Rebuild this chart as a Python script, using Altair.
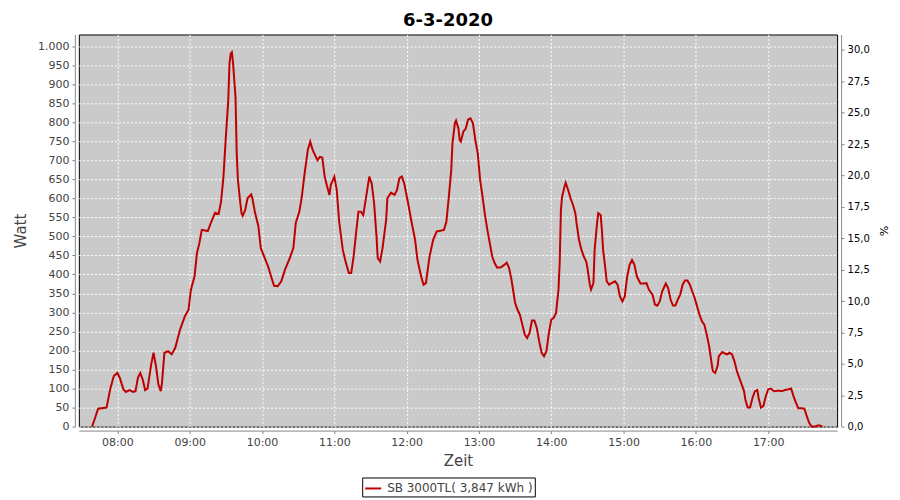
import json
import altair as alt
import pandas as pd

# ---- data (minutes since midnight, Watt) ----
minutes = [
    459, 462, 464, 471, 474, 477, 480, 482, 485, 487, 490, 493, 495, 497, 499, 501,
    503, 505, 508, 510, 512, 514, 516, 517, 519, 522, 525, 528, 532, 536, 539, 541,
    544, 546, 548, 550, 555, 558, 561, 564, 566, 568, 570, 572, 573, 574, 575, 576,
    578, 579, 580, 582, 583, 584, 586, 588, 591, 592, 594, 597, 599,
    605, 608, 610, 613, 616, 619, 623, 626, 628, 631, 633, 635, 638, 640, 642, 646,
    648, 650, 652, 654, 656, 657, 660, 662, 664, 667, 669, 672, 674, 676, 678, 680,
    682, 684, 686, 689, 691, 693, 695, 696, 698, 700, 703, 704, 707, 710, 712, 714,
    716, 718, 721, 724, 727, 729, 732, 734, 736, 739, 742, 745, 747, 751, 753, 755,
    757, 758, 760, 761, 763, 764, 765, 767, 769, 771, 773, 775, 777, 779, 781, 783,
    785, 787, 789, 791, 793, 795, 798, 801, 803, 805, 807, 810, 812, 814, 816, 818,
    820, 822, 824, 826, 828, 830, 832, 834, 836, 838, 840, 842, 844, 846, 847, 848,
    849, 851, 852, 854, 856, 858, 860, 861, 863, 865, 867, 869, 870, 872, 873, 875,
    876, 878, 879, 881, 882, 883, 885, 886, 888, 890, 893, 895, 897, 899, 901,
    903, 905, 907, 909, 911, 914, 917, 919, 921, 924, 926, 928, 930, 932, 935, 937,
    939, 941, 943, 945, 947, 949, 951, 953, 955, 957, 959, 961, 963, 965, 967, 969,
    971, 973, 974, 976, 978, 979, 982, 984, 986, 988, 990, 992, 994, 996, 998, 1000,
    1001, 1003, 1005, 1007, 1009, 1011, 1012, 1014, 1016, 1018, 1020, 1022, 1025, 1029,
    1031, 1034, 1037, 1039, 1041, 1043, 1045, 1048, 1050, 1052, 1054, 1056, 1059, 1061,
    1063, 1065,
]
watt = [
    0, 28, 47, 50, 98, 133, 141, 128, 98, 91, 96, 91, 93, 128, 141, 124,
    96, 100, 163, 194, 159, 111, 93, 115, 194, 198, 190, 207, 255, 290, 307, 360,
    395, 456, 482, 517, 514, 539, 562, 559, 591, 657, 762, 858, 954, 980, 984, 954,
    866, 718, 648, 587, 561, 554, 569, 600, 610, 600, 565, 526, 469,
    421, 390, 370, 369, 382, 412, 443, 469, 535, 565, 604, 657, 727, 749, 727, 700,
    709, 707, 657, 631, 609, 635, 657, 622, 539, 465, 438, 404, 404, 447, 508, 565,
    565, 556, 596, 657, 639, 587, 500, 443, 434, 469, 543, 600, 615, 609, 622, 653,
    657, 639, 591, 539, 491, 438, 395, 373, 377, 447, 491, 513, 514, 517, 539, 604,
    674, 744, 797, 804, 783, 753, 749, 775, 783, 807, 810, 797, 753, 718, 648, 604,
    556, 517, 482, 447, 430, 418, 418, 425, 431, 417, 386, 325, 307, 294, 268, 242,
    233, 246, 279, 279, 259, 224, 194, 185, 198, 246, 281, 286, 299, 360, 430, 569,
    604, 631, 641, 622, 600, 583, 561, 535, 491, 465, 447, 434, 417, 373, 360, 377,
    465, 535, 561, 556, 517, 465, 412, 382, 373, 377, 382, 373, 342, 329, 342,
    395, 425, 438, 425, 395, 376, 376, 377, 360, 347, 321, 318, 329, 355, 376, 364,
    334, 318, 318, 334, 347, 373, 384, 384, 373, 355, 338, 316, 294, 277, 268, 242,
    211, 168, 146, 141, 159, 185, 196, 192, 190, 194, 190, 172, 146, 128, 111, 93,
    72, 50, 50, 76, 93, 96, 76, 50, 54, 80, 98, 100, 93, 95,
    93, 96, 98, 100, 80, 63, 48, 48, 47, 28, 10, 0, 0, 3,
    3, 0,
]

hour_ticks = [480, 540, 600, 660, 720, 780, 840, 900, 960, 1020]
hour_labels = ["08:00", "09:00", "10:00", "11:00", "12:00", "13:00", "14:00",
               "15:00", "16:00", "17:00"]
watt_ticks = list(range(0, 1001, 50))
pct_ticks = [0, 2.5, 5, 7.5, 10, 12.5, 15, 17.5, 20, 22.5, 25, 27.5, 30]
series_name = "SB 3000TL( 3,847 kWh )"
title_text = "6-3-2020"
peak_power = 3300  # W corresponding to 100 %

df = pd.DataFrame({"min": minutes, "watt": watt})
df["pct"] = df["watt"] / peak_power * 100
df["series"] = series_name

FONT = "DejaVu Sans"
x_domain = [448, 1077.2]
w_domain = [0, 1030.5]
p_domain = [0, 1030.5 / peak_power * 100]

x_enc = alt.X(
    "min:Q",
    scale=alt.Scale(domain=x_domain, nice=False, zero=False),
    axis=alt.Axis(
        title="Zeit", values=hour_ticks,
        labelExpr=f"{json.dumps(hour_labels)}[round((datum.value-480)/60)]",
        offset=4, grid=True, gridColor="white", gridDash=[2, 2], gridWidth=1,
        domainColor="#888888", tickColor="#888888", tickSize=3,
        labelFont=FONT, labelFontSize=11, labelColor="#444444", labelPadding=3,
        titleFont=FONT, titleFontSize=15, titleFontWeight="normal",
        titleColor="#444444", titlePadding=6,
    ),
)

line = alt.Chart(df).mark_line(strokeWidth=2, interpolate="linear").encode(
    x=x_enc,
    y=alt.Y(
        "watt:Q",
        scale=alt.Scale(domain=w_domain, nice=False),
        axis=alt.Axis(
            title="Watt", values=watt_ticks,
            labelExpr="replace(format(datum.value, ','), ',', '.')",
            offset=4, grid=True, gridColor="white", gridDash=[2, 2], gridWidth=1,
            domainColor="#888888", tickColor="#888888", tickSize=3,
            labelFont=FONT, labelFontSize=11, labelColor="#444444", labelPadding=3,
            titleFont=FONT, titleFontSize=15, titleFontWeight="normal",
            titleColor="#444444", titlePadding=9,
        ),
    ),
    color=alt.Color(
        "series:N",
        scale=alt.Scale(range=["#bf0000"]),
        legend=alt.Legend(
            title=None, orient="none", legendX=284, legendY=444,
            strokeColor="black", padding=2, symbolType="stroke",
            symbolSize=256, symbolStrokeWidth=2, labelOffset=5,
            labelFont=FONT, labelFontSize=12, labelColor="#444444",
        ),
    ),
)

right = alt.Chart(df).mark_line(opacity=0).encode(
    x=alt.X("min:Q", scale=alt.Scale(domain=x_domain, nice=False, zero=False)),
    y=alt.Y(
        "pct:Q",
        scale=alt.Scale(domain=p_domain, nice=False),
        axis=alt.Axis(
            title="%", orient="right", values=pct_ticks,
            labelExpr="replace(format(datum.value, '.1f'), '.', ',')",
            offset=4, grid=False,
            domainColor="#888888", tickColor="#888888", tickSize=3,
            labelFont=FONT, labelFontSize=10, labelColor="black", labelPadding=3,
            titleFont=FONT, titleFontSize=11, titleFontWeight="normal",
            titleColor="black", titlePadding=8,
        ),
    ),
)

chart = (
    alt.layer(line, right)
    .resolve_scale(y="independent")
    .properties(
        width=760, height=393,
        autosize=alt.AutoSizeParams(type="none"),
        padding={"left": 71, "top": 26, "right": 55, "bottom": 73},
        background="white",
        title=alt.TitleParams(
            text=title_text, font=FONT, fontSize=18, fontWeight="bold",
            color="black", anchor="middle", dx=-10, offset=-9,
            baseline="alphabetic",
        ),
    )
    .configure_view(fill="#cacaca", stroke="black", strokeWidth=1)
)

chart.save("out.html", embed_options={"renderer": "svg", "actions": False})
